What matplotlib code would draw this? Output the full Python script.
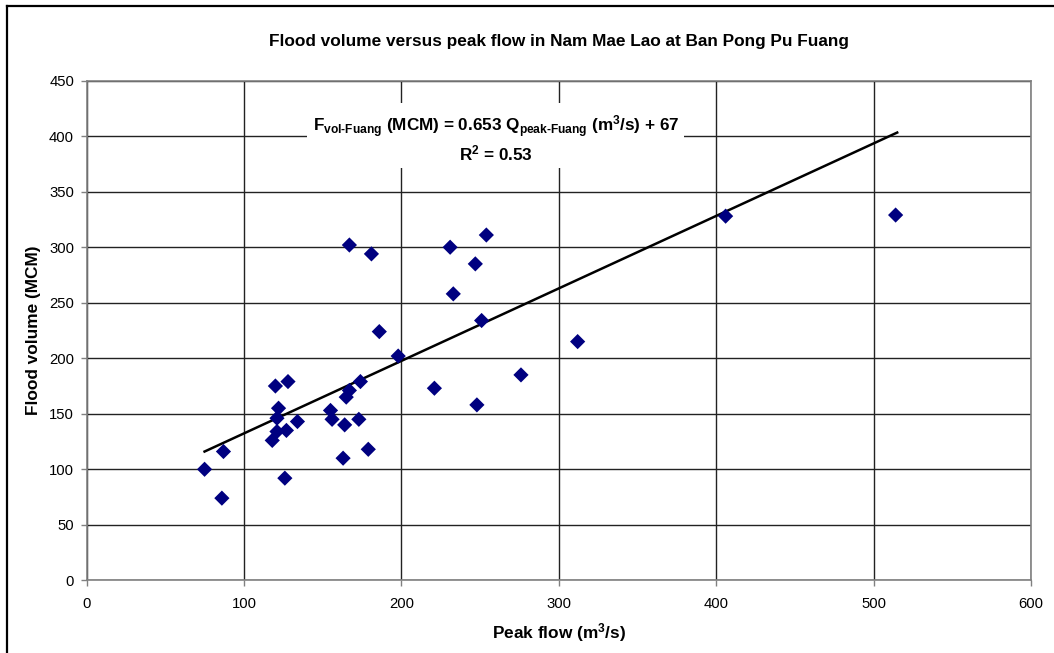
import matplotlib
matplotlib.use("Agg")
import matplotlib.pyplot as plt
from matplotlib.lines import Line2D
import numpy as np

plt.rcParams["font.family"] = ["Liberation Sans", "DejaVu Sans"]
plt.rcParams["mathtext.fontset"] = "custom"
plt.rcParams["mathtext.rm"] = "Liberation Sans:bold"
plt.rcParams["mathtext.it"] = "Liberation Sans:bold"
plt.rcParams["mathtext.bf"] = "Liberation Sans:bold"
plt.rcParams["mathtext.default"] = "rm"

# Observed flood events: peak flow (m3/s) and flood volume (MCM)
peak_flow = [75, 87, 86, 126, 120, 128, 122, 121, 118, 121, 127, 134,
             155, 156, 164, 163, 165, 167, 174, 173, 179, 167, 181, 186,
             198, 221, 254, 231, 247, 233, 251, 312, 276, 248, 406, 514]
flood_volume = [100, 116, 74, 92, 175, 179, 155, 146, 126, 134, 135, 143,
                153, 145, 140, 110, 165, 171, 179, 145, 118, 302, 294, 224,
                202, 173, 311, 300, 285, 258, 234, 215, 185, 158, 328, 329]

# Regression: F = 0.653 Q + 67
slope = 0.653
intercept = 67
fit_range = [75, 515]

x_ticks = [0, 100, 200, 300, 400, 500, 600]
y_ticks = [0, 50, 100, 150, 200, 250, 300, 350, 400, 450]

W, H = 1054, 653
fig = plt.figure(figsize=(W / 100, H / 100), dpi=100)
left, right, top, bottom = 86.5, 1031, 80.7, 580.3
ax = fig.add_axes([left / W, 1 - bottom / H, (right - left) / W, (bottom - top) / H])

ax.set_xlim(0, 600)
ax.set_ylim(0, 450)
ax.set_xticks(x_ticks)
ax.set_yticks(y_ticks)
ax.grid(True, color="#222222", linewidth=1.0)
ax.set_axisbelow(True)

for side in ["top", "right", "left", "bottom"]:
    ax.spines[side].set_color("#808080")
    ax.spines[side].set_linewidth(1.2)

ax.tick_params(axis="both", direction="out", length=4, width=1,
               color="#808080", labelsize=10.7, pad=5)
ax.tick_params(axis="x", pad=8)

xf = np.array(fit_range, dtype=float)
ax.plot(xf, slope * xf + intercept, color="black", linewidth=1.8, zorder=3)

ax.scatter(peak_flow, flood_volume, marker="D", s=60, color="#000080",
           edgecolors="none", zorder=4)

eq = (r"F$_{\text{vol-Fuang}}$ (MCM) = 0.653 Q$_{\text{peak-Fuang}}$ (m$^3$/s) + 67"
      "\n" r"R$^2$ = 0.53")
ax.text(260, 398, eq, ha="center", va="center", fontsize=12.3, fontweight="bold",
        linespacing=1.2, zorder=5,
        bbox=dict(boxstyle="square,pad=0.3", facecolor="white", edgecolor="none"))

ax.set_xlabel(r"Peak flow (m$^3$/s)", fontsize=12.4, fontweight="bold", labelpad=7)
ax.set_ylabel("Flood volume (MCM)", fontsize=12.4, fontweight="bold", labelpad=6)
ax.set_title("Flood volume versus peak flow in Nam Mae Lao at Ban Pong Pu Fuang",
             fontsize=12.4, fontweight="bold", pad=25)

# Outer frame: top and left edges
fx0, fy0 = 7 / W, 1 - 6 / H
fig.add_artist(Line2D([fx0, 1.0], [fy0, fy0], transform=fig.transFigure,
                      color="black", linewidth=1.6))
fig.add_artist(Line2D([fx0, fx0], [0.0, fy0], transform=fig.transFigure,
                      color="black", linewidth=1.6))

fig.savefig("out.png", dpi=100)
